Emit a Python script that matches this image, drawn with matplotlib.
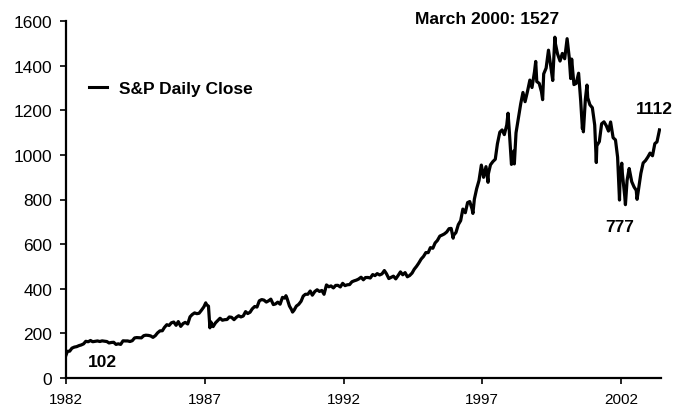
import matplotlib
matplotlib.use("Agg")
import matplotlib.pyplot as plt
import pandas as pd

plt.rcParams['font.family'] = ['Liberation Sans', 'DejaVu Sans']

# S&P 500 closes (month ends plus notable turning points)
dates_1982_1986 = [
    "1982-08-12", "1982-08-31", "1982-09-30", "1982-10-29", "1982-11-30", "1982-12-31",
    "1983-01-31", "1983-02-28", "1983-03-31", "1983-04-29", "1983-05-31", "1983-06-30",
    "1983-07-29", "1983-08-31", "1983-09-30", "1983-10-31", "1983-11-30", "1983-12-30",
    "1984-01-31", "1984-02-29", "1984-03-30", "1984-04-30", "1984-05-31", "1984-06-29",
    "1984-07-31", "1984-08-31", "1984-09-28", "1984-10-31", "1984-11-30", "1984-12-31",
    "1985-01-31", "1985-02-28", "1985-03-29", "1985-04-30", "1985-05-31", "1985-06-28",
    "1985-07-31", "1985-08-30", "1985-09-30", "1985-10-31", "1985-11-29", "1985-12-31",
    "1986-01-31", "1986-02-28", "1986-03-31", "1986-04-30", "1986-05-30", "1986-06-30",
    "1986-07-31", "1986-08-29", "1986-09-30", "1986-10-31", "1986-11-28", "1986-12-31",
]
close_1982_1986 = [
    102.42, 119.51, 120.42, 133.72, 138.54, 140.64,
    145.30, 148.06, 152.96, 164.42, 162.39, 168.11,
    162.56, 164.40, 166.07, 163.55, 166.40, 164.93,
    163.41, 157.06, 159.18, 160.05, 150.55, 153.18,
    150.66, 166.68, 166.10, 166.09, 163.58, 167.24,
    179.63, 181.18, 180.66, 179.83, 189.55, 191.85,
    190.92, 188.63, 182.08, 189.82, 202.17, 211.28,
    211.78, 226.92, 238.90, 235.52, 247.35, 250.84,
    236.12, 252.93, 231.32, 243.98, 249.22, 242.17,
]

dates_1987_1991 = [
    "1987-01-30", "1987-02-27", "1987-03-31", "1987-04-30", "1987-05-29", "1987-06-30",
    "1987-07-31", "1987-08-25", "1987-08-31", "1987-09-30", "1987-10-19", "1987-10-30",
    "1987-11-30", "1987-12-31",
    "1988-01-29", "1988-02-29", "1988-03-31", "1988-04-29", "1988-05-31", "1988-06-30",
    "1988-07-29", "1988-08-31", "1988-09-30", "1988-10-31", "1988-11-30", "1988-12-30",
    "1989-01-31", "1989-02-28", "1989-03-31", "1989-04-28", "1989-05-31", "1989-06-30",
    "1989-07-31", "1989-08-31", "1989-09-29", "1989-10-31", "1989-11-30", "1989-12-29",
    "1990-01-31", "1990-02-28", "1990-03-30", "1990-04-30", "1990-05-31", "1990-06-29",
    "1990-07-16", "1990-07-31", "1990-08-31", "1990-09-28", "1990-10-11", "1990-10-31",
    "1990-11-30", "1990-12-31",
    "1991-01-31", "1991-02-28", "1991-03-28", "1991-04-30", "1991-05-31", "1991-06-28",
    "1991-07-31", "1991-08-30", "1991-09-30", "1991-10-31", "1991-11-29", "1991-12-31",
]
close_1987_1991 = [
    274.08, 284.20, 291.70, 288.36, 290.10, 304.00,
    318.66, 336.77, 329.80, 321.83, 224.84, 251.79,
    230.30, 247.08,
    257.07, 267.82, 258.89, 261.33, 262.16, 273.50,
    272.02, 261.52, 271.91, 278.97, 273.70, 277.72,
    297.47, 288.86, 294.87, 309.64, 320.52, 317.98,
    346.08, 351.45, 349.15, 340.36, 345.99, 353.40,
    329.08, 331.89, 339.94, 330.80, 361.23, 358.02,
    368.95, 356.15, 322.56, 306.05, 295.46, 304.00,
    322.22, 330.22,
    343.93, 367.07, 375.22, 375.34, 389.83, 371.16,
    387.81, 395.43, 387.86, 392.46, 375.22, 417.09,
]

dates_1992_1996 = [
    "1992-01-31", "1992-02-28", "1992-03-31", "1992-04-30", "1992-05-29", "1992-06-30",
    "1992-07-31", "1992-08-31", "1992-09-30", "1992-10-30", "1992-11-30", "1992-12-31",
    "1993-01-29", "1993-02-26", "1993-03-31", "1993-04-30", "1993-05-28", "1993-06-30",
    "1993-07-30", "1993-08-31", "1993-09-30", "1993-10-29", "1993-11-30", "1993-12-31",
    "1994-01-31", "1994-02-28", "1994-03-31", "1994-04-29", "1994-05-31", "1994-06-30",
    "1994-07-29", "1994-08-31", "1994-09-30", "1994-10-31", "1994-11-30", "1994-12-30",
    "1995-01-31", "1995-02-28", "1995-03-31", "1995-04-28", "1995-05-31", "1995-06-30",
    "1995-07-31", "1995-08-31", "1995-09-29", "1995-10-31", "1995-11-30", "1995-12-29",
    "1996-01-31", "1996-02-29", "1996-03-29", "1996-04-30", "1996-05-31", "1996-06-28",
    "1996-07-24", "1996-07-31", "1996-08-30", "1996-09-30", "1996-10-31", "1996-11-29",
    "1996-12-31",
]
close_1992_1996 = [
    408.79, 412.70, 403.69, 414.95, 415.35, 408.14,
    424.21, 414.03, 417.80, 418.68, 431.35, 435.71,
    438.78, 443.38, 451.67, 440.19, 450.19, 450.53,
    448.13, 463.56, 458.93, 467.83, 461.79, 466.45,
    481.61, 467.14, 445.77, 450.91, 456.50, 444.27,
    458.26, 475.49, 462.69, 472.35, 453.69, 459.27,
    470.42, 487.39, 500.71, 514.71, 533.40, 544.75,
    562.06, 561.88, 584.41, 581.50, 605.37, 615.93,
    636.02, 640.43, 645.50, 654.17, 669.12, 670.63,
    626.65, 639.95, 651.99, 687.31, 705.27, 757.02,
    740.74,
]

dates_1997_2003 = [
    "1997-01-31", "1997-02-28", "1997-04-11", "1997-03-31", "1997-04-30", "1997-05-30",
    "1997-06-30", "1997-07-31", "1997-08-29", "1997-09-30", "1997-10-27", "1997-10-31",
    "1997-11-28", "1997-12-31",
    "1998-01-30", "1998-02-27", "1998-03-31", "1998-04-30", "1998-05-29", "1998-06-30",
    "1998-07-17", "1998-07-31", "1998-08-31", "1998-09-30", "1998-10-08", "1998-10-30",
    "1998-11-30", "1998-12-31",
    "1999-01-29", "1999-02-26", "1999-03-31", "1999-04-30", "1999-05-28", "1999-06-30",
    "1999-07-16", "1999-07-30", "1999-08-31", "1999-09-30", "1999-10-15", "1999-10-29",
    "1999-11-30", "1999-12-31",
    "2000-01-31", "2000-02-25", "2000-02-29", "2000-03-24", "2000-03-31", "2000-04-28",
    "2000-05-31", "2000-06-30", "2000-07-31", "2000-08-31", "2000-09-01", "2000-09-29",
    "2000-10-18", "2000-10-31", "2000-11-30", "2000-12-29",
    "2001-01-31", "2001-02-28", "2001-03-22", "2001-03-30", "2001-04-04", "2001-04-30",
    "2001-05-21", "2001-05-31", "2001-06-29", "2001-07-31", "2001-08-31", "2001-09-21",
    "2001-09-28", "2001-10-31", "2001-11-30", "2001-12-31",
    "2002-01-31", "2002-02-28", "2002-03-28", "2002-04-30", "2002-05-31", "2002-06-28",
    "2002-07-23", "2002-07-31", "2002-08-22", "2002-08-30", "2002-09-30", "2002-10-09",
    "2002-10-31", "2002-11-27", "2002-11-29", "2002-12-31",
    "2003-01-31", "2003-02-28", "2003-03-11", "2003-03-31", "2003-04-30", "2003-05-30",
    "2003-06-30", "2003-07-31", "2003-08-29", "2003-09-30", "2003-10-31", "2003-11-28",
    "2003-12-31",
]
close_1997_2003 = [
    786.16, 790.82, 737.65, 757.12, 801.34, 848.28,
    885.14, 954.29, 899.47, 947.28, 876.99, 914.62,
    955.40, 970.43,
    980.28, 1049.34, 1101.75, 1111.75, 1090.82, 1133.84,
    1186.75, 1120.67, 957.28, 1017.01, 959.44, 1098.67,
    1163.63, 1229.23,
    1279.64, 1238.33, 1286.37, 1335.18, 1301.84, 1372.71,
    1418.78, 1328.72, 1320.41, 1282.71, 1247.41, 1362.93,
    1388.91, 1469.25,
    1394.46, 1333.36, 1366.42, 1527.46, 1498.58, 1452.43,
    1420.60, 1454.60, 1430.83, 1517.68, 1520.77, 1436.51,
    1342.13, 1429.40, 1314.95, 1320.28,
    1366.01, 1239.94, 1117.58, 1160.33, 1103.25, 1249.46,
    1312.83, 1255.82, 1224.42, 1211.23, 1133.58, 965.80,
    1040.94, 1059.78, 1139.45, 1148.08,
    1130.20, 1106.73, 1147.39, 1076.92, 1067.14, 989.82,
    797.70, 911.62, 962.70, 916.07, 815.28, 776.76,
    885.76, 938.87, 936.31, 879.82,
    855.70, 841.15, 800.73, 848.18, 916.92, 963.59,
    974.50, 990.31, 1008.01, 995.97, 1050.71, 1058.20,
    1111.92,
]

tick_labels = ["1982", "1987", "1992", "1997", "2002"]
y_ticks = [0, 200, 400, 600, 800, 1000, 1200, 1400, 1600]

df = pd.DataFrame({
    "date": pd.to_datetime(dates_1982_1986 + dates_1987_1991 + dates_1992_1996 + dates_1997_2003),
    "close": close_1982_1986 + close_1987_1991 + close_1992_1996 + close_1997_2003,
}).sort_values("date")
dec = df["date"].dt.year + (df["date"].dt.dayofyear - 1) / 365.25
x0 = dec.iloc[0]

fig = plt.figure(figsize=(6.89, 4.10), dpi=100)
ax = fig.add_axes([66/689, 1 - 379/410, (660.7 - 66)/689, (379 - 22)/410])
ax.plot(dec, df["close"], color="black", lw=2.3, solid_joinstyle="round",
        label="S&P Daily Close")

ax.set_xlim(x0, x0 + 21.43)
ax.set_ylim(0, 1600)
ax.set_yticks(y_ticks)
ax.set_xticks([x0 + 5 * i for i in range(len(tick_labels))])
ax.set_xticklabels(tick_labels)

for s in ["top", "right"]:
    ax.spines[s].set_visible(False)
for s in ["left", "bottom"]:
    ax.spines[s].set_linewidth(1.6)
ax.tick_params(direction="out", length=4, width=1.2, labelsize=12.5, pad=6)
ax.tick_params(axis="x", labelsize=11, pad=6)

leg = ax.legend(loc="center left", bbox_to_anchor=(89/689, 1 - 89/410),
                bbox_transform=fig.transFigure, frameon=False, borderpad=0,
                borderaxespad=0, handlelength=1.05, handletextpad=0.65,
                prop={"weight": "bold", "size": 12.5})
for h in leg.get_lines():
    h.set_linewidth(2.2)

ax.text(487.5/689, 1 - 19.5/410, "March 2000: 1527", transform=fig.transFigure,
        ha="center", va="center", fontsize=12.5, fontweight="bold")
ax.text(654/689, 1 - 110/410, "1112", transform=fig.transFigure,
        ha="center", va="center", fontsize=12.5, fontweight="bold")
ax.text(620/689, 1 - 228/410, "777", transform=fig.transFigure,
        ha="center", va="center", fontsize=12.5, fontweight="bold")
ax.text(102/689, 1 - 363/410, "102", transform=fig.transFigure,
        ha="center", va="center", fontsize=12.5, fontweight="bold")

fig.savefig("out.png", dpi=100)
